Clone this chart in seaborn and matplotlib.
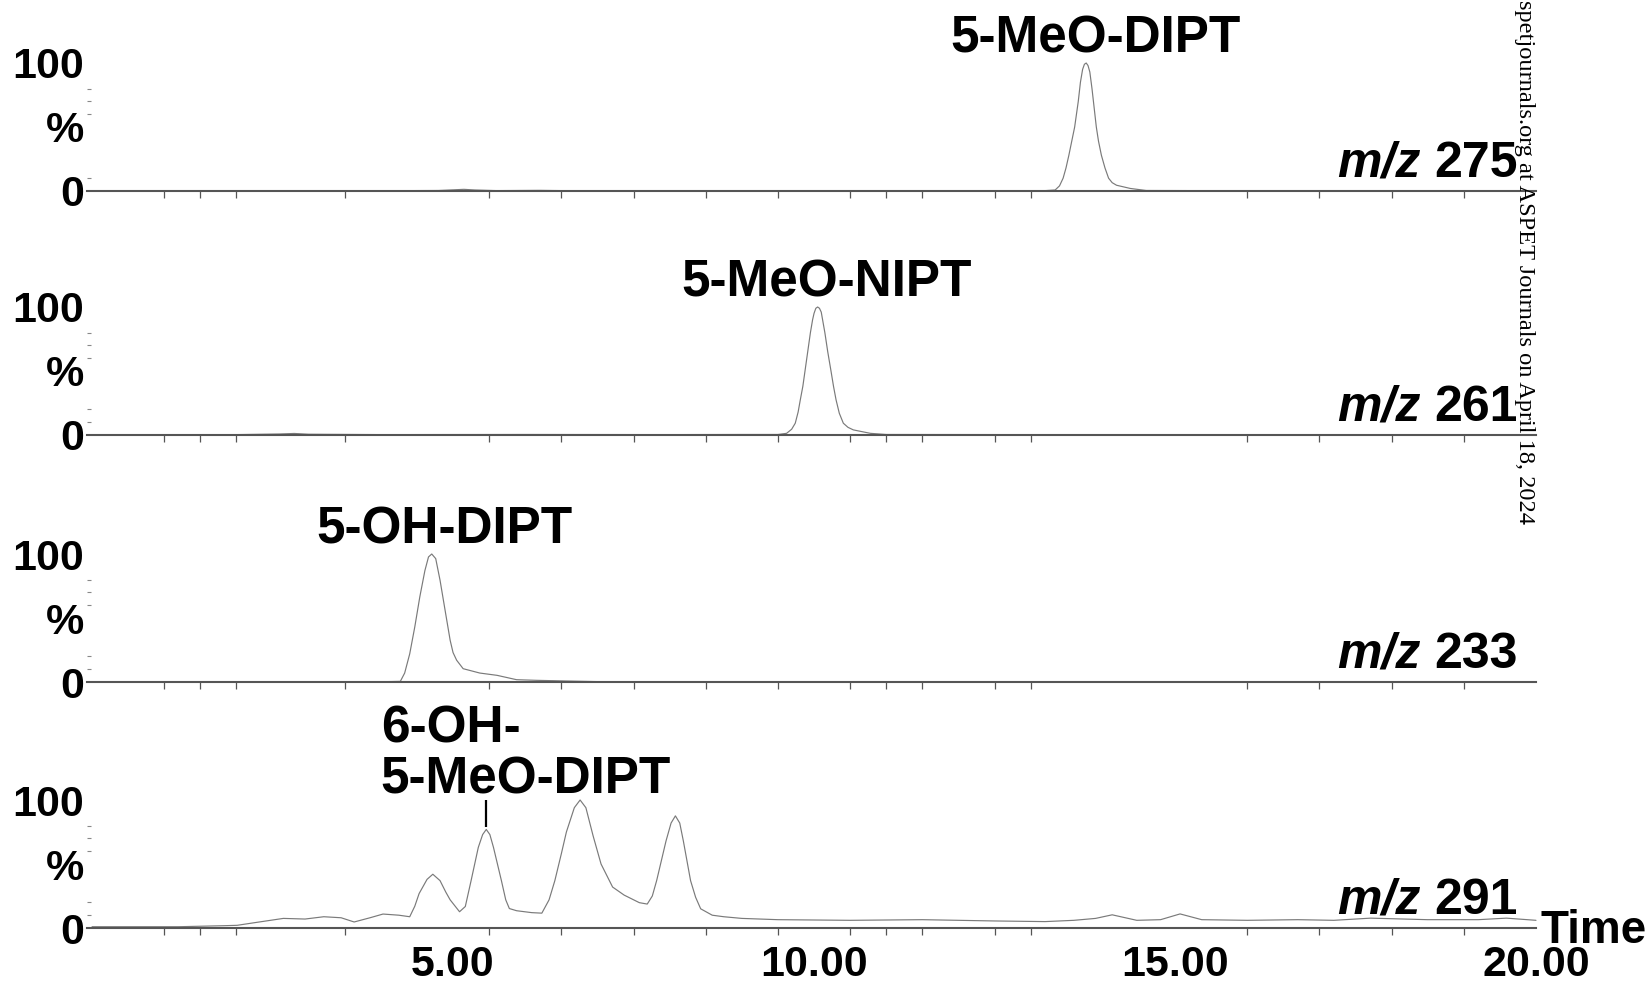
import pandas as pd
import seaborn as sns
import matplotlib.pyplot as plt

# Retention times (min) and relative intensities (%)
t_275 = [0.0, 1.0, 2.5, 4.0, 4.8, 5.0, 5.15, 5.3, 5.6, 6.2, 6.5, 7.0, 9.0, 11.0, 12.5, 13.2,
         13.34, 13.40, 13.45, 13.49, 13.53, 13.57, 13.61, 13.66, 13.69, 13.72, 13.745, 13.77,
         13.795, 13.82, 13.85, 13.88, 13.91, 13.94, 13.98, 14.03, 14.08, 14.13, 14.19, 14.38,
         14.6, 16.0, 18.0, 20.0]
i_275 = [0.3, 0.2, 0.3, 0.2, 0.4, 0.9, 1.3, 0.8, 0.3, 0.5, 0.3, 0.2, 0.2, 0.2, 0.3, 0.3,
         0.8, 4, 10, 18, 28, 39, 50, 70, 85, 95, 99, 100,
         98, 93, 80, 65, 50, 39, 28, 18, 10, 6.5, 4.5, 2,
         0.4, 0.2, 0.3, 0.3]

t_261 = [0.0, 2.0, 2.6, 2.8, 3.0, 4.0, 6.0, 8.0, 9.0, 9.5, 9.62, 9.69, 9.74, 9.78, 9.81,
         9.845, 9.875, 9.915, 9.95, 9.98, 10.0, 10.025, 10.05, 10.075, 10.10, 10.15, 10.19,
         10.235, 10.27, 10.305, 10.35, 10.406, 10.47, 10.544, 10.78, 11.0, 13.0, 15.0,
         17.0, 20.0]
i_261 = [0.2, 0.3, 0.8, 1.2, 0.6, 0.3, 0.4, 0.3, 0.4, 0.4, 1.3, 4.5, 9.2, 18, 27.5,
         38, 50, 66, 80, 90, 95, 99, 100, 99, 96, 80, 65,
         50, 38, 27.5, 17, 9.2, 6, 4, 1.3, 0.4, 0.3, 0.3,
         0.2, 0.3]

t_233 = [0.0, 3.0, 4.0, 4.27, 4.33, 4.40, 4.47, 4.54, 4.61, 4.66, 4.705, 4.76, 4.82, 4.89,
         4.96, 5.00, 5.05, 5.14, 5.37, 5.61, 5.88, 6.16, 6.57, 7.0, 10.0, 15.0, 20.0]
i_233 = [0.0, 0.0, 0.2, 0.5, 7, 22, 43, 66.6, 87, 97.7, 100, 96.4, 79.5, 56,
         32.6, 23, 17, 10.4, 7, 5.2, 1.8, 1.3, 0.8, 0.3, 0.2, 0.2, 0.2]

t_291 = [0.0, 1.2, 1.83, 2.01, 2.28, 2.65, 2.95, 3.21, 3.45, 3.63, 3.85, 4.03, 4.25, 4.40,
         4.47, 4.53, 4.64, 4.72, 4.82, 4.90, 4.96, 5.09, 5.17, 5.25, 5.30, 5.35, 5.41, 5.46,
         5.51, 5.56, 5.67, 5.73, 5.78, 5.88, 6.09, 6.23, 6.33, 6.41, 6.50, 6.57, 6.68, 6.76,
         6.84, 6.94, 7.05, 7.21, 7.37, 7.58, 7.69, 7.76, 7.82, 7.95, 8.02, 8.08, 8.14, 8.19,
         8.29, 8.36, 8.43, 8.59, 8.75, 9.0, 9.5, 10.5, 11.5, 12.5, 13.2, 13.6, 13.9, 14.13,
         14.47, 14.8, 15.07, 15.37, 16.0, 16.7, 17.2, 17.71, 18.5, 19.2, 19.59, 20.0]
i_291 = [1.0, 1.0, 1.8, 2.1, 4.4, 7.5, 7.0, 8.8, 8.0, 4.7, 8.0, 10.9, 10.0, 8.8,
         17, 26.9, 38, 42, 37, 28, 22, 12.7, 16.8, 37, 50, 63, 73, 77,
         73, 63, 37, 22, 15.2, 13.5, 12, 11.6, 22, 37, 58, 75, 94, 100,
         94, 72, 50, 32, 25.7, 19.8, 18.7, 25, 37, 68, 82, 87.6, 82, 68,
         37, 24, 15, 10, 8.8, 7.5, 6.5, 6.0, 6.5, 5.5, 5.0, 6.0, 7.5, 10.3,
         6.0, 6.5, 11, 6.5, 6.0, 6.5, 6.0, 7.7, 6.5, 6.5, 7.7, 6.0]

mz_labels = ["275", "261", "233", "291"]
peak_names = ["5-MeO-DIPT", "5-MeO-NIPT", "5-OH-DIPT", None]
peak_label_x = [13.9, 10.18, 4.875, None]
traces = [(t_275, i_275), (t_261, i_261), (t_233, i_233), (t_291, i_291)]

# 6-OH-5-MeO-DIPT marker in the m/z 291 trace
marked_peak_time = 5.46
marked_peak_top = 77

minor_x = [1.0, 1.5, 2.0, 3.5, 5.5, 6.5, 7.5, 8.5, 9.5, 10.5, 11.0, 11.5, 12.5, 13.0,
           15, 16, 17, 18, 19, 20]
major_x = [5, 10, 15, 20]
major_x_labels = ["5.00", "10.00", "15.00", "20.00"]
minor_y = [[10, 60, 70, 80], [10, 20, 60, 70, 80], [10, 20, 60, 70, 80], [10, 20, 60, 70, 80]]

sns.set_style("white")
plt.rcParams["font.family"] = ["Liberation Sans", "DejaVu Sans"]
plt.rcParams["font.weight"] = "bold"
plt.rcParams["text.color"] = "black"
plt.rcParams["xtick.labelcolor"] = "black"
plt.rcParams["ytick.labelcolor"] = "black"

W, H = 1652, 984
fig = plt.figure(figsize=(W / 100, H / 100), dpi=100)

x_left, x_right = 87, 1536
baselines = [191, 435, 682, 928]
panel_h = 128
fs = 37

axes = []
for k, (t, inten) in enumerate(traces):
    b = baselines[k]
    ax = fig.add_axes([x_left / W, (H - b) / H, (x_right - x_left) / W, panel_h / H])
    df = pd.DataFrame({"time": t, "intensity": inten})
    sns.lineplot(data=df, x="time", y="intensity", ax=ax, color="#7a7a7a",
                 linewidth=0.85, estimator=None, sort=True)
    ax.lines[-1].set_clip_on(False)

    ax.set_xlim(-0.07, 20)
    ax.set_ylim(0, 100)
    ax.set_xlabel("")
    ax.set_ylabel("")
    for side in ["top", "right", "left"]:
        ax.spines[side].set_visible(False)
    ax.spines["bottom"].set_color("#555555")
    ax.spines["bottom"].set_linewidth(1.5)

    ax.set_yticks([0, 50, 100], labels=["0", "%", "100"])
    ax.set_yticks(minor_y[k], minor=True)
    ax.tick_params(axis="y", which="major", left=True, length=0, pad=2, labelsize=31)
    ax.tick_params(axis="y", which="minor", left=True, length=3, direction="in",
                   color="#888888", width=0.8)

    ax.set_xticks(major_x, labels=major_x_labels)
    ax.set_xticks(minor_x, minor=True)
    ax.tick_params(axis="x", which="major", bottom=True, length=0, pad=12, labelsize=31)
    ax.tick_params(axis="x", which="minor", bottom=True, length=5, direction="out",
                   color="#555555", width=0.9)
    if k < 3:
        ax.tick_params(axis="x", labelbottom=False)

    # compound label above the peak
    if peak_names[k] is not None:
        ax.text(peak_label_x[k], 108, peak_names[k], ha="center", va="baseline", fontsize=fs)

    # m/z label at right
    num = ax.text(19.75, 11, mz_labels[k], ha="right", va="baseline", fontsize=36)
    ax.annotate("m/z", xy=(0, 0), xycoords=num, xytext=(-10, 0), textcoords="offset points",
                ha="right", va="bottom", fontsize=36, style="italic")
    axes.append(ax)

ax4 = axes[3]
ax4.text(4.0, 145, "6-OH-", ha="left", va="baseline", fontsize=fs)
ax4.text(4.0, 105.4, "5-MeO-DIPT", ha="left", va="baseline", fontsize=fs)
ax4.vlines(marked_peak_time, marked_peak_top + 2, 104.6, colors="black", linewidth=1.6)
ax4.text(1.0028, -0.115, "Time", transform=ax4.transAxes, ha="left", va="baseline",
         fontsize=33)

fig.text(1525 / W, 1.0, "spetjournals.org at ASPET Journals on April 18, 2024",
         rotation=-90, ha="center", va="top", fontsize=17.6, fontweight="normal",
         family=["Liberation Serif", "DejaVu Serif"])

fig.savefig("out.png", dpi=100)
